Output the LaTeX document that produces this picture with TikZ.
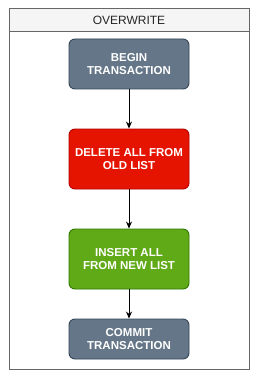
\documentclass[tikz,border=0pt]{standalone}
\usepackage{fontspec}
\setmainfont{Liberation Sans}
\usetikzlibrary{arrows.meta,positioning}
\definecolor{slate}{HTML}{647687}
\definecolor{slateline}{HTML}{314354}
\definecolor{redfill}{HTML}{E51400}
\definecolor{redline}{HTML}{B20000}
\definecolor{greenfill}{HTML}{60A917}
\definecolor{greenline}{HTML}{2D7600}
\definecolor{frameline}{HTML}{666666}
\definecolor{hdrfill}{HTML}{F5F5F5}
\tikzset{pin/.style={-{Stealth[length=7pt,width=6pt]}, line width=0.9pt},
  stepbox/.style={draw, line width=0.9pt, rounded corners=6pt, minimum width=120pt, text=white,
    font=\fontsize{11.5}{13.5}\selectfont\bfseries, align=center}}

\begin{document}
\begin{tikzpicture}[x=1pt, y=-1pt]
  \useasboundingbox (0,0) rectangle (260,377);
  % container
  \node[draw=frameline, line width=1pt, minimum width=240pt, minimum height=360pt, inner sep=0pt] (frame) at (129,189) {};
  \node[draw=frameline, fill=hdrfill, line width=1pt, minimum width=240pt, minimum height=23pt, inner sep=0pt,
    font=\fontsize{12}{14}\selectfont, text=black!85] (title) at (129,20.5) {OVERWRITE};
  % steps
  \node[stepbox, fill=slate, draw=slateline, minimum height=50pt] (begin) at (129,64) {BEGIN\\TRANSACTION};
  \node[stepbox, fill=redfill, draw=redline, minimum height=60pt] (delete) at (129,159) {DELETE ALL FROM\\OLD LIST};
  \node[stepbox, fill=greenfill, draw=greenline, minimum height=60pt] (insert) at (129,259) {INSERT ALL\\FROM NEW LIST};
  \node[stepbox, fill=slate, draw=slateline, minimum height=40pt] (commit) at (129,339) {COMMIT\\TRANSACTION};
  \draw[pin] (begin) -- (delete);
  \draw[pin] (delete) -- (insert);
  \draw[pin] (insert) -- (commit);
\end{tikzpicture}
\end{document}
